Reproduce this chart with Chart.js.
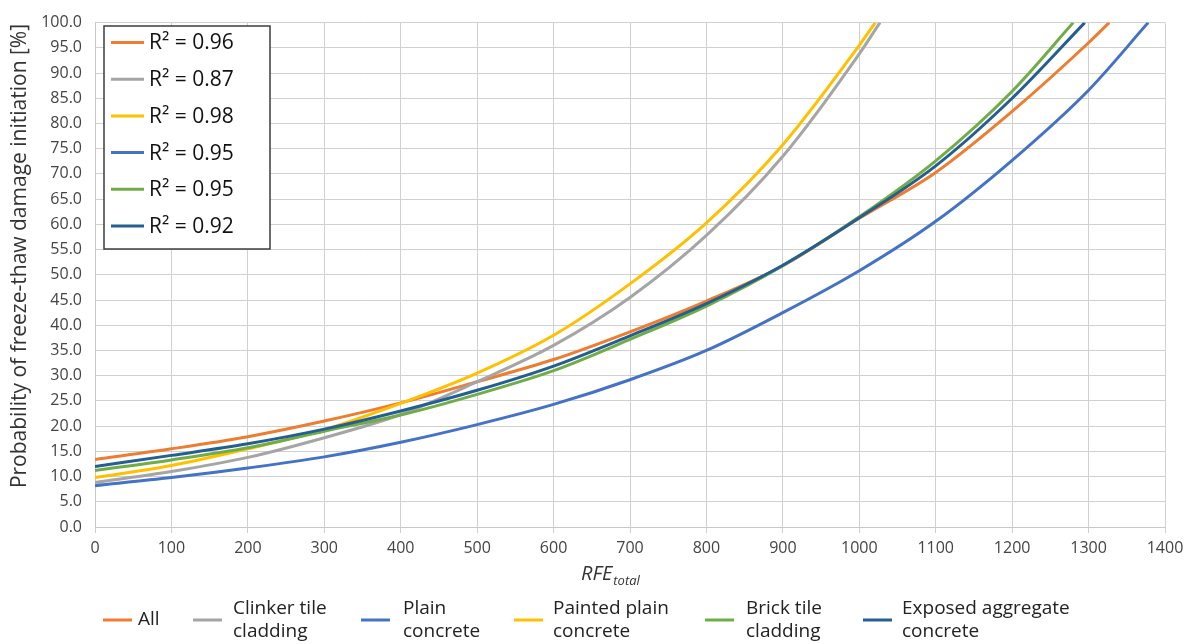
<!DOCTYPE html>
<html>
<head>
<meta charset="utf-8">
<script src="https://cdn.jsdelivr.net/npm/chart.js@4.4.1/dist/chart.umd.min.js"></script>
<style>
  body { margin: 0; background: #fff; }
  #wrap { width: 1192px; height: 644px; }
</style>
</head>
<body>
<div id="wrap"><canvas id="myChart" width="1192" height="644"></canvas></div>
<script>
// RFE values where the curves were read (every 100)
const rfe = [0, 100, 200, 300, 400, 500, 600, 700, 800, 900, 1000, 1100, 1200, 1300];

// probability of freeze-thaw damage initiation [%]
const allValues      = [13.4, 15.5, 17.9, 21.0, 24.6, 28.8, 33.2, 38.7, 44.8, 51.8, 61.2, 70.3, 82.4, 96.0];
const clinkerValues  = [8.8, 11.0, 13.8, 17.7, 22.3, 28.8, 36.0, 45.5, 57.8, 73.5, 93.8];
const plainValues    = [8.2, 9.8, 11.7, 13.9, 16.8, 20.3, 24.3, 29.2, 35.0, 42.5, 50.8, 60.6, 72.7, 86.6];
const paintedValues  = [9.8, 12.2, 15.5, 19.3, 24.5, 30.5, 38.0, 48.2, 60.3, 75.8, 95.5];
const brickValues    = [11.2, 13.3, 15.7, 19.0, 22.2, 26.3, 31.0, 37.2, 43.8, 51.8, 61.5, 72.6, 86.4];
const exposedValues  = [12.0, 14.2, 16.5, 19.4, 23.0, 27.1, 31.9, 37.9, 44.3, 51.9, 61.3, 71.6, 85.0];

// RFE where each curve reaches 100 %
const endRfe = [1327, 1027, 1378, 1021, 1280, 1295];

const seriesNames = [["All"], ["Clinker tile", "cladding"], ["Plain", "concrete"],
                     ["Painted plain", "concrete"], ["Brick tile", "cladding"], ["Exposed aggregate", "concrete"]];
const seriesValues = [allValues, clinkerValues, plainValues, paintedValues, brickValues, exposedValues];
const seriesColors = ["#ED7D31", "#A5A5A5", "#4472C4", "#FFC000", "#70AD47", "#255E91"];
const r2Values = ["0.96", "0.87", "0.95", "0.98", "0.95", "0.92"];
const r2Order = [0, 1, 3, 2, 4, 5];

const FONT = "'Open Sans', 'DejaVu Sans', sans-serif";

const datasets = seriesValues.map((vals, i) => {
  const pts = vals.map((v, j) => ({ x: rfe[j], y: v }));
  pts.push({ x: endRfe[i], y: 100 });
  return {
    label: seriesNames[i].join(" "),
    data: pts,
    borderColor: seriesColors[i],
    backgroundColor: seriesColors[i],
    borderWidth: 3,
    pointRadius: 0,
    cubicInterpolationMode: "monotone",
    fill: false,
    order: 5 - i
  };
});

// titles and the two legends
const extras = {
  id: "extras",
  afterDraw(chart) {
    const ctx = chart.ctx;
    ctx.save();

    // y title
    ctx.fillStyle = "#333";
    ctx.font = "21px " + FONT;
    ctx.textAlign = "center";
    ctx.textBaseline = "middle";
    ctx.translate(20, 256);
    ctx.rotate(-Math.PI / 2);
    ctx.fillText("Probability of freeze-thaw damage initiation [%]", 0, 0);
    ctx.setTransform(1, 0, 0, 1, 0, 0);

    // x title RFE_total
    ctx.textAlign = "left";
    ctx.textBaseline = "alphabetic";
    ctx.font = "italic 20px " + FONT;
    ctx.fillText("RFE", 581, 580);
    const w = ctx.measureText("RFE").width;
    ctx.font = "italic 13px " + FONT;
    ctx.fillText("total", 581 + w + 1, 585);

    // inner R² legend
    ctx.fillStyle = "#fff";
    ctx.fillRect(104, 26, 166, 223);
    ctx.strokeStyle = "#3c3c3c";
    ctx.lineWidth = 1.5;
    ctx.strokeRect(104, 26, 166, 223);
    ctx.font = "21px " + FONT;
    ctx.textBaseline = "middle";
    r2Order.forEach((s, k) => {
      const y = 42.5 + k * 36.7;
      ctx.strokeStyle = seriesColors[s];
      ctx.lineWidth = 3;
      ctx.beginPath();
      ctx.moveTo(111, y);
      ctx.lineTo(144, y);
      ctx.stroke();
      ctx.fillStyle = "#111";
      ctx.fillText("R² = " + r2Values[s], 149, y + 1);
    });

    // bottom legend
    const swatchX = [103, 193, 361, 514, 705, 863];
    const textX = [138, 233, 403, 553, 746, 902];
    ctx.font = "19px " + FONT;
    seriesNames.forEach((lines, i) => {
      ctx.strokeStyle = seriesColors[i];
      ctx.lineWidth = 3;
      ctx.beginPath();
      ctx.moveTo(swatchX[i], 620);
      ctx.lineTo(swatchX[i] + 29, 620);
      ctx.stroke();
      ctx.fillStyle = "#222";
      if (lines.length === 1) {
        ctx.fillText(lines[0], textX[i], 620);
      } else {
        ctx.fillText(lines[0], textX[i], 609);
        ctx.fillText(lines[1], textX[i], 632);
      }
    });
    ctx.restore();
  }
};

const chart = new Chart(document.getElementById("myChart"), {
  type: "line",
  data: { datasets: datasets },
  options: {
    responsive: false,
    devicePixelRatio: 1,
    animation: false,
    layout: { padding: { top: 16, right: 27, left: 0, bottom: 0 } },
    plugins: { legend: { display: false }, tooltip: { enabled: false } },
    scales: {
      x: {
        type: "linear",
        min: 0,
        max: 1400,
        afterFit: (s) => { s.height = 117; },
        grid: { color: "#d0d0d0", lineWidth: 1, tickLength: 6, drawTicks: true },
        border: { color: "#c8c8c8" },
        ticks: {
          stepSize: 100,
          padding: 6,
          color: "#444",
          font: { family: FONT, size: 16 },
          callback: (v) => String(v)
        }
      },
      y: {
        min: 0,
        max: 100,
        afterFit: (s) => { s.width = 95; },
        grid: { color: "#d0d0d0", lineWidth: 1, drawTicks: false, tickLength: 0 },
        border: { color: "#c8c8c8" },
        ticks: {
          stepSize: 5,
          padding: 13,
          color: "#444",
          font: { family: FONT, size: 16 },
          callback: (v) => v.toFixed(1)
        }
      }
    }
  },
  plugins: [extras]
});
</script>
</body>
</html>
